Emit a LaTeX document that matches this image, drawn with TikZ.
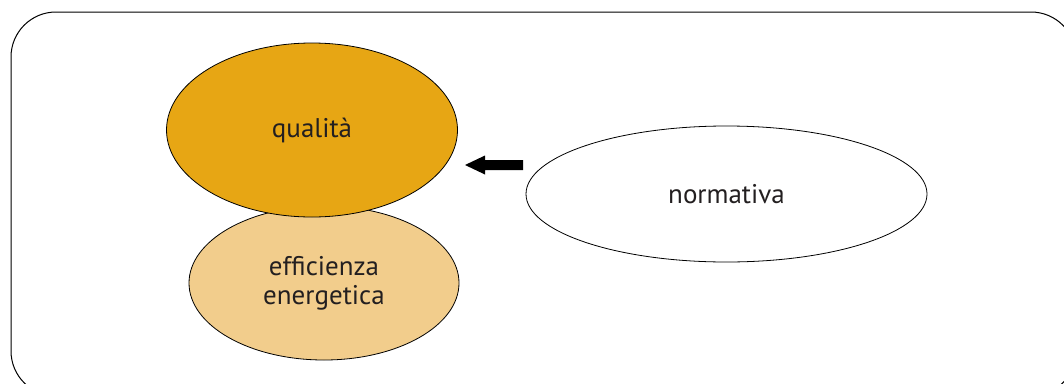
\documentclass[tikz,border=0pt]{standalone}
\usepackage{fontspec}
\setmainfont{PT Sans}
\usetikzlibrary{shapes.geometric}
\definecolor{txt}{HTML}{231F20}
\definecolor{qual}{HTML}{E7A614}
\definecolor{eff}{HTML}{F2CD8C}
\tikzset{
  blob/.style={ellipse, draw=black, line width=0.8pt, inner sep=0pt, font=\fontsize{27}{29}\selectfont, text=txt, align=center},
}
\begin{document}
\begin{tikzpicture}[x=1pt,y=-1pt]
\useasboundingbox (0,0) rectangle (1064,383);
\begin{scope}
\clip (0,0) rectangle (1064,383);
\draw[line width=1pt, rounded corners=45pt] (11,12) rectangle (1076,396);
\end{scope}
\node[blob, fill=eff, minimum width=270pt, minimum height=154pt] (eff) at (324,283) {efficienza\\energetica};
\node[blob, fill=qual, minimum width=291pt, minimum height=174pt] (qual) at (312,130) {qualità};
\node[blob, fill=white, minimum width=401pt, minimum height=136pt] (norm) at (726.5,194) {normativa};
\coordinate (tail) at (523,165);
\coordinate (tip) at (465,165);
\fill[black] (tail) ++(0,-5) -- ++(-38,0) -- ++(0,-4.5) -- (tip) -- ++(20,9.5) -- ++(0,-4.5) -- ++(38,0) -- cycle;
\end{tikzpicture}
\end{document}
